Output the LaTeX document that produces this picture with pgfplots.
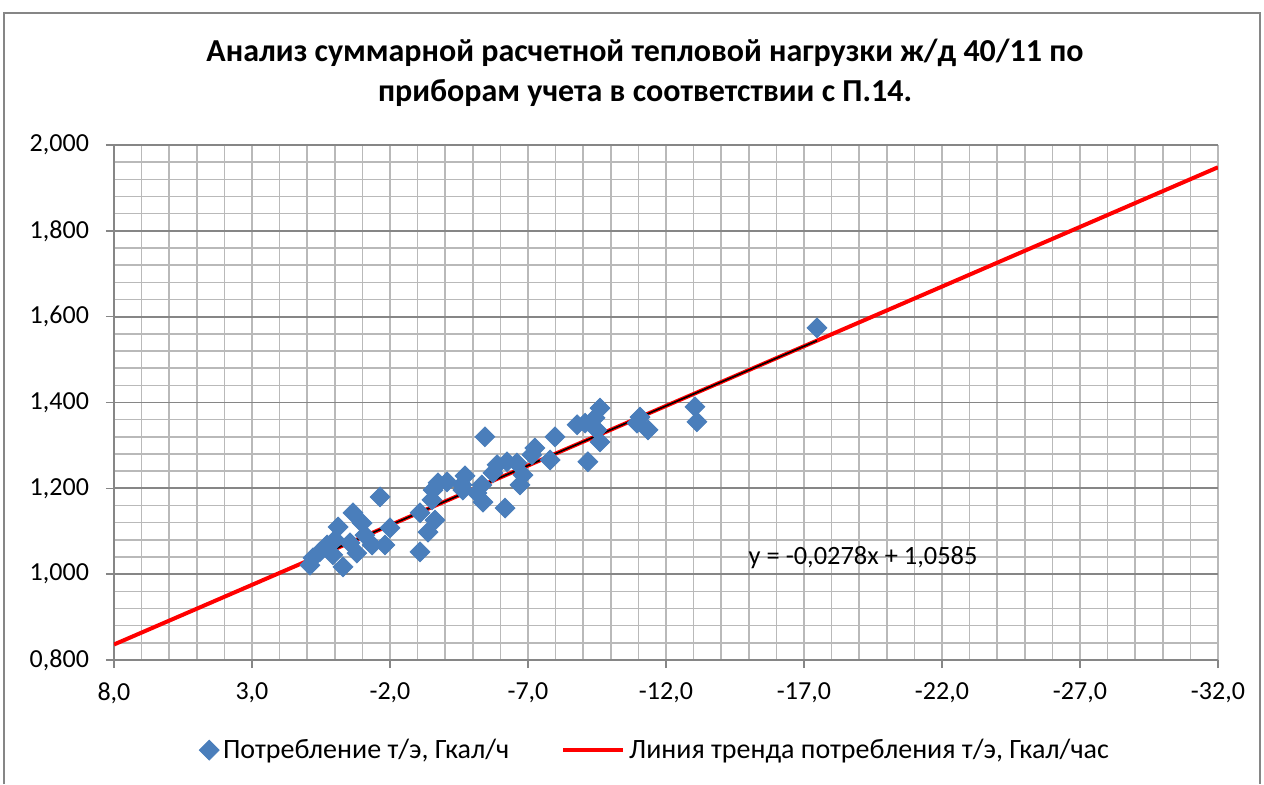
\documentclass[border=0pt]{standalone}
\usepackage{pgfplots}
\pgfplotsset{compat=1.18}
\usepackage{fontspec}
\setmainfont{Carlito}
\definecolor{mblue}{HTML}{4A7EBB}
\definecolor{gridl}{HTML}{B9B9B9}
\definecolor{gridd}{HTML}{868686}
\pgfplotsset{longline/.style={legend image code/.code={\draw[##1] (0pt,0pt) -- (30pt,0pt);}}}
\pgfplotstableread{
x y
0.90 1.021
0.79 1.038
0.54 1.052
0.28 1.068
0.07 1.045
-0.12 1.110
-0.30 1.017
-0.01 1.080
-0.66 1.143
-0.99 1.119
-0.80 1.049
-1.09 1.091
-1.35 1.068
-1.64 1.180
-1.82 1.068
-2.00 1.108
-0.55 1.073
-3.09 1.052
-3.09 1.143
-3.38 1.098
-3.63 1.126
-3.52 1.173
-3.74 1.213
-4.07 1.215
-3.56 1.196
-4.61 1.208
-4.72 1.229
-4.64 1.196
-5.37 1.168
-5.44 1.320
-5.33 1.208
-5.15 1.189
-5.73 1.236
-5.88 1.255
-6.17 1.154
-6.24 1.262
-6.60 1.259
-6.82 1.231
-6.71 1.208
-7.14 1.278
-7.25 1.294
-7.80 1.266
-7.98 1.320
-8.78 1.348
-9.07 1.352
-9.43 1.364
-9.61 1.387
-9.61 1.308
-9.17 1.262
-9.50 1.336
-11.06 1.366
-10.95 1.352
-11.35 1.336
-13.05 1.390
-13.12 1.355
-17.47 1.574
}\datatable
\begin{document}
\begin{tikzpicture}
\path[use as bounding box] (0pt,0pt) rectangle (632pt,392pt);
\draw[gridd, line width=0.8pt] (2pt,0pt) -- (2pt,385.5pt) -- (630pt,385.5pt) -- (630pt,0pt);
\node[font=\fontsize{16}{20}\selectfont\bfseries, align=center] at (322.5pt,355.5pt) {Анализ суммарной расчетной тепловой нагрузки ж/д 40/11 по\\приборам учета в соответствии с П.14.};
\begin{axis}[
  at={(57pt,62pt)}, anchor=south west,
  scale only axis, width=552pt, height=257.5pt,
  x dir=reverse, xmin=-32, xmax=8, ymin=0.8, ymax=2.0,
  xtick={8,3,-2,-7,-12,-17,-22,-27,-32},
  minor xtick={-32,-31,...,8},
  ytick={0.8,1,1.2,1.4,1.6,1.8,2},
  minor ytick={0.84,0.88,0.92,0.96,1.04,1.08,1.12,1.16,1.24,1.28,1.32,1.36,1.44,1.48,1.52,1.56,1.64,1.68,1.72,1.76,1.84,1.88,1.92,1.96},
  grid=both,
  major x grid style={gridl, line width=0.8pt},
  minor x grid style={gridl, line width=0.8pt},
  major y grid style={gridd, line width=0.9pt},
  minor y grid style={gridl, line width=0.8pt},
  axis x line*=bottom, axis y line*=left,
  axis line style={gridd, line width=0.9pt},
  tick align=outside, major tick length=4pt, minor tick length=0pt,
  tick style={gridd, line width=0.8pt},
  tick label style={font=\fontsize{13}{15}\selectfont},
  /pgf/number format/assume math mode=true,
  xticklabel style={yshift=-4pt, /pgf/number format/.cd, fixed, fixed zerofill, precision=1, use comma},
  yticklabel style={xshift=-5pt, /pgf/number format/.cd, fixed, fixed zerofill, precision=3, use comma},
  scaled ticks=false,
  legend style={at={(0.491,-0.175)}, anchor=center, draw=none, fill=none,
    font=\fontsize{14}{16}\selectfont, legend columns=2,
    /tikz/every even column/.append style={column sep=24pt}},
  legend cell align=left,
]
\addplot[only marks, mark=square*, mark size=3.5pt, mark options={rotate=45, fill=mblue, draw=mblue}] table[x=x,y=y] {\datatable};
\addlegendentry{Потребление т/э, Гкал/ч}
\addplot[red, line width=2pt, longline] coordinates {(8,0.8361) (-32,1.9481)};
\addlegendentry{Линия тренда потребления т/э, Гкал/час}
\addplot[black, line width=0.8pt, forget plot] coordinates {(0.9,1.0335) (-17.47,1.5442)};
\node[font=\fontsize{13.2}{15}\selectfont] at (axis cs:-19.14,1.038) {y = -0,0278x + 1,0585};
\end{axis}
\end{tikzpicture}
\end{document}
